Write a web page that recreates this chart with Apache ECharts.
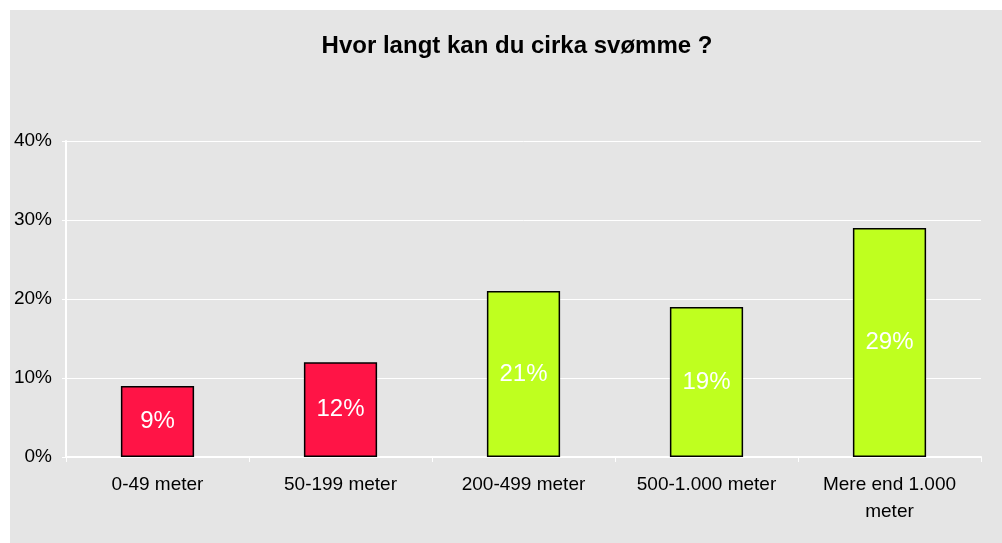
<!DOCTYPE html>
<html><head><meta charset="utf-8">
<script src="https://cdn.jsdelivr.net/npm/echarts@6/dist/echarts.min.js"></script>
<style>html,body{margin:0;padding:0;background:#fff}#c{width:1002px;height:543px}</style>
</head><body><div id="c"></div>
<script>
const categories = ['0-49 meter', '50-199 meter', '200-499 meter', '500-1.000 meter', 'Mere end 1.000\nmeter'];
const values = [9, 12, 21, 19, 29];
const barColors = ['#ff1446', '#ff1446', '#bfff1f', '#bfff1f', '#bfff1f'];
const yTicks = [0, 10, 20, 30, 40];
const titleText = 'Hvor langt kan du cirka svømme ?';

const chart = echarts.init(document.getElementById('c'), null, {renderer: 'canvas'});
const FONT = '"Liberation Sans", Arial, sans-serif';
chart.setOption({
  animation: false,
  textStyle: {fontFamily: FONT},
  graphic: [{type: 'rect', z: -10, silent: true, shape: {x: 10, y: 10, width: 992, height: 533}, style: {fill: '#e5e5e5'}}],
  title: {
    text: titleText, left: 512, top: 29, textAlign: 'center',
    textStyle: {fontFamily: FONT, fontSize: 24, fontWeight: 'bold', color: '#000'}
  },
  grid: {left: 66, right: 21, top: 141, bottom: 86, containLabel: false},
  xAxis: {
    type: 'category', data: categories,
    axisLine: {show: true, lineStyle: {color: '#fff', width: 2}},
    axisTick: {show: true, alignWithLabel: false, length: 5, lineStyle: {color: '#fff', width: 1}},
    axisLabel: {color: '#000', fontSize: 19, margin: 14, lineHeight: 27, interval: 0, fontFamily: FONT}
  },
  yAxis: {
    type: 'value', min: yTicks[0], max: yTicks[yTicks.length - 1], interval: 10,
    axisLine: {show: true, lineStyle: {color: '#fff', width: 2}},
    axisTick: {show: true, length: 4, lineStyle: {color: '#fff'}},
    splitLine: {show: true, lineStyle: {color: '#fff', width: 1}},
    axisLabel: {color: '#000', fontSize: 19, margin: 14, formatter: '{value}%', fontFamily: FONT}
  },
  series: [{
    type: 'bar', barWidth: '40%',
    data: values.map((v, i) => ({value: v, itemStyle: {color: barColors[i]}})),
    itemStyle: {borderColor: '#000', borderWidth: 1.5},
    label: {show: true, position: 'inside', color: '#fff', fontSize: 24, formatter: '{c}%', fontFamily: FONT}
  }]
});
</script></body></html>
